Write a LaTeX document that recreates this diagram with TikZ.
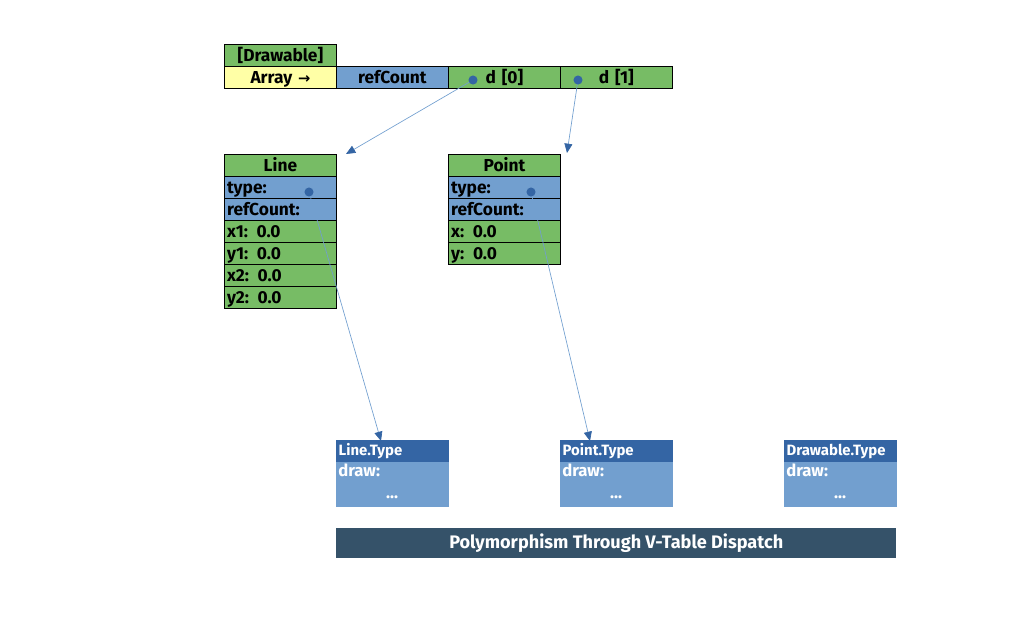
\documentclass[tikz,border=0pt]{standalone}
\usepackage{fontspec}
\setmainfont{Fira Sans}
\newfontfamily\arrowfont{DejaVu Sans}
\usetikzlibrary{arrows.meta}
\definecolor{cellgreen}{HTML}{77BC65}
\definecolor{cellblue}{HTML}{729FCF}
\definecolor{cellyellow}{HTML}{FFFFA6}
\definecolor{typeblue}{HTML}{3465A4}
\definecolor{bannerblue}{HTML}{355269}
\tikzset{
	cell/.style={draw=black, line width=0.6pt, anchor=north west, minimum height=16.5pt, text width=80pt, inner xsep=2pt, inner ysep=0pt, text height=9.2pt, text depth=0.2pt, align=center, font=\bfseries\fontsize{13}{13}\selectfont},
	field/.style={cell, align=left},
	typehead/.style={fill=typeblue, anchor=north west, minimum height=16.5pt, minimum width=84.6pt, text width=81pt, inner xsep=1.5pt, inner ysep=0pt, text height=8pt, text depth=1.6pt, align=left, text=white, font=\bfseries\fontsize{11.2}{11.2}\selectfont},
	typebody/.style={fill=cellblue, anchor=north west, minimum height=33.75pt, minimum width=84.6pt, inner sep=0pt},
	typetext/.style={text=white, font=\bfseries\fontsize{12.5}{12.5}\selectfont, inner sep=1.5pt},
	ptr/.style={draw=cellblue, line width=0.5pt, -{Triangle[length=7pt, width=6pt, color=typeblue]}}
}
\begin{document}
\begin{tikzpicture}[x=0.75pt, y=-0.75pt]
	\useasboundingbox (0,0) rectangle (1016,619);
	% the array
	\node[cell, fill=cellgreen] (drawable) at (224,44) {[Drawable]};
	\node[cell, fill=cellyellow] (array) at (224,66) {Array {\arrowfont\bfseries\fontsize{11}{11}\selectfont →}};
	\node[cell, fill=cellblue] (arefcount) at (336,66) {refCount};
	\node[cell, fill=cellgreen] (d0) at (448,66) {d [0]};
	\node[cell, fill=cellgreen] (d1) at (560,66) {d [1]};
	% Line object
	\node[cell, fill=cellgreen] (line) at (224,154) {Line};
	\node[field, fill=cellblue] (ltype) at (224,176) {type:};
	\node[field, fill=cellblue] (lrefcount) at (224,198) {refCount:};
	\node[field, fill=cellgreen] (lx1) at (224,220) {x1: 0.0};
	\node[field, fill=cellgreen] (ly1) at (224,242) {y1: 0.0};
	\node[field, fill=cellgreen] (lx2) at (224,264) {x2: 0.0};
	\node[field, fill=cellgreen] (ly2) at (224,286) {y2: 0.0};
	% Point object
	\node[cell, fill=cellgreen] (point) at (448,154) {Point};
	\node[field, fill=cellblue] (ptype) at (448,176) {type:};
	\node[field, fill=cellblue] (prefcount) at (448,198) {refCount:};
	\node[field, fill=cellgreen] (px) at (448,220) {x: 0.0};
	\node[field, fill=cellgreen] (py) at (448,242) {y: 0.0};
	% v-tables
	\node[typehead] (linetype) at (336,440) {Line.Type};
	\node[typebody] (linebody) at (336,462) {};
	\node[typetext, anchor=north west] at (linebody.north west) {draw:};
	\node[typetext] at (392,497) {...};
	\node[typehead] (pointtype) at (560,440) {Point.Type};
	\node[typebody] (pointbody) at (560,462) {};
	\node[typetext, anchor=north west] at (pointbody.north west) {draw:};
	\node[typetext] at (616,497) {...};
	\node[typehead] (drawtype) at (784,440) {Drawable.Type};
	\node[typebody] (drawbody) at (784,462) {};
	\node[typetext, anchor=north west] at (drawbody.north west) {draw:};
	\node[typetext] at (840,497) {...};
	\node[fill=bannerblue, anchor=north west, minimum width=420pt, minimum height=22.5pt, text=white, font=\bfseries\fontsize{13.6}{13.6}\selectfont] (title) at (336,528) {Polymorphism Through V-Table Dispatch};
	% pointers
	\coordinate (d0dot) at (473,80);
	\coordinate (d1dot) at (578,80);
	\coordinate (ltypedot) at (309,192);
	\coordinate (ptypedot) at (531,192);
	\draw[ptr] (d0dot) -- (346,154);
	\draw[ptr] (d1dot) -- (567,153);
	\draw[ptr] (ltypedot) -- (381,441);
	\draw[ptr] (ptypedot) -- (590,441);
	\fill[typeblue] (d0dot) circle (3.4pt);
	\fill[typeblue] (d1dot) circle (3.4pt);
	\fill[typeblue] (ltypedot) circle (3.4pt);
	\fill[typeblue] (ptypedot) circle (3.4pt);
\end{tikzpicture}
\end{document}
